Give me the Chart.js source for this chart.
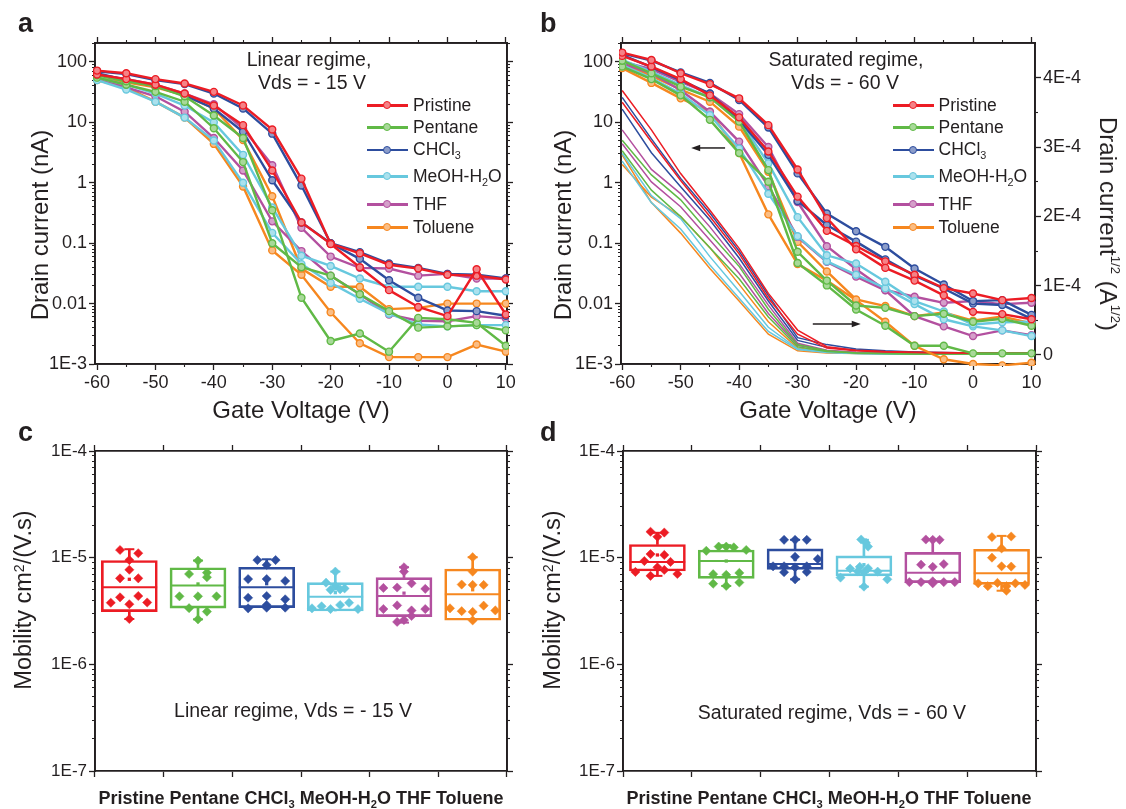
<!DOCTYPE html>
<html><head><meta charset="utf-8">
<script src="https://cdn.jsdelivr.net/npm/chart.js@4.4.1/dist/chart.umd.min.js"></script>
<style>
html,body{margin:0;padding:0;background:#fff;}
body{position:relative;width:1126px;height:809px;overflow:hidden;font-family:'Liberation Sans',Arial,Helvetica,sans-serif;color:#231f20;}
canvas{position:absolute;left:0;top:0;}
.tx{position:absolute;white-space:nowrap;line-height:1;}
sub{font-size:62%;vertical-align:-0.4em;line-height:0;}
sup{font-size:55%;vertical-align:0.8em;line-height:0;}
</style></head><body>
<canvas id="cA" width="1126" height="809"></canvas>
<canvas id="cB" width="1126" height="809"></canvas>
<canvas id="cC" width="1126" height="809"></canvas>
<canvas id="cD" width="1126" height="809"></canvas>
<div id="ov"></div>
<script>
// ---------------- DATA ----------------
const V = [-60,-55,-50,-45,-40,-35,-30,-25,-20,-15,-10,-5,0,5,10];
const solvents = ['Pristine','Pentane','CHCl3','MeOH-H2O','THF','Toluene'];
const colors = ['#EC1C24','#60B946','#2D4D9E','#67C8DE','#B3509F','#F6871F'];

// panel a: linear regime (Vds = -15 V), drain current in nA, two transfer curves per solvent
const aPristine1 = [72,65,52,44,32,19,7.6,1.17,0.097,0.04,0.0167,0.0088,0.0062,0.037,0.0066];
const aPristine2 = [62,52,42,30,19,9,1.6,0.22,0.098,0.068,0.044,0.038,0.03,0.029,0.025];
const aPentane1  = [60,48,40,27,13,5.5,0.35,0.0125,0.0024,0.0032,0.0016,0.0058,0.0055,0.0048,0.002];
const aPentane2  = [55,42,32,22,8,2.2,0.1,0.04,0.029,0.0143,0.0075,0.004,0.0042,0.0044,0.0036];
const aCHCl3_1   = [70,63,50,43,30,17,6.5,0.9,0.1,0.071,0.046,0.039,0.031,0.03,0.026];
const aCHCl3_2   = [65,50,40,28,17,7,1.1,0.22,0.1,0.055,0.0243,0.0125,0.0077,0.0075,0.0063];
const aMeOH1     = [55,42,30,19,10,2.9,0.39,0.062,0.042,0.026,0.019,0.019,0.019,0.016,0.016];
const aMeOH2     = [50,35,22,12,5,1.0,0.148,0.045,0.022,0.012,0.0068,0.0045,0.0042,0.0044,0.0044];
const aTHF1      = [62,52,42,30,20,7.9,1.95,0.18,0.06,0.039,0.038,0.029,0.031,0.026,0.026];
const aTHF2      = [55,38,27,15,5.5,1.6,0.23,0.074,0.029,0.0143,0.0066,0.0052,0.0051,0.0062,0.0057];
const aToluene1  = [54,46,38,28,17,5.1,0.6,0.038,0.019,0.019,0.0081,0.0085,0.01,0.01,0.01];
const aToluene2  = [50,38,22,12,4.4,0.87,0.076,0.03,0.0072,0.0022,0.0013,0.0013,0.0013,0.0021,0.0016];

// panel b: saturated regime (Vds = -60 V), drain current in nA (log, left axis)
const bPristine1 = [143,108,65,43,25,9.0,1.66,0.26,0.079,0.039,0.024,0.0137,0.0073,0.0067,0.0055];
const bPristine2 = [126,84,52,28,12.1,3.3,0.59,0.16,0.09,0.05,0.03,0.018,0.0147,0.0114,0.0124];
const bPentane1  = [105,65,39,26,10.3,1.62,0.072,0.024,0.0093,0.0085,0.0062,0.0068,0.005,0.0056,0.0043];
const bPentane2  = [84,52,28,11,3.1,1.04,0.047,0.02,0.008,0.0043,0.002,0.002,0.0015,0.0015,0.0015];
const bCHCl3_1   = [139,105,67,45,23.5,8.2,1.43,0.31,0.158,0.087,0.038,0.0207,0.011,0.0114,0.0065];
const bCHCl3_2   = [131,82,50,30,11,2.9,0.5,0.2,0.106,0.054,0.029,0.0178,0.01,0.0095,0.0056];
const bMeOH1     = [108,69,41.5,26,11,2.1,0.27,0.063,0.046,0.023,0.011,0.0074,0.0045,0.0049,0.005];
const bMeOH2     = [89,54,30,13.2,3.7,0.66,0.13,0.05,0.03,0.018,0.0098,0.0055,0.0042,0.0036,0.0029];
const bTHF1      = [101,76,47,30,13.7,3.9,0.48,0.089,0.037,0.0168,0.013,0.0103,0.011,0.0098,0.0103];
const bTHF2      = [95,65,34,15,4.8,0.88,0.127,0.049,0.028,0.0166,0.0062,0.0042,0.0029,0.0036,0.003];
const bToluene1  = [95,59,35,22,8.5,1.52,0.105,0.034,0.0117,0.0091,0.0062,0.0071,0.0052,0.0061,0.0047];
const bToluene2  = [79,45,25,15,3.1,0.3,0.045,0.024,0.0114,0.005,0.002,0.0012,0.001,0.00095,0.00105];

// panel b: square root of drain current, in units of 1E-4 A^1/2 (right axis)
const sPristine1 = [3.82,3.25,2.62,2.09,1.54,0.89,0.36,0.12,0.07,0.05,0.04,0.035,0.03,0.03,0.03];
const sPristine2 = [3.65,3.08,2.52,2.0,1.46,0.82,0.3,0.1,0.06,0.045,0.035,0.03,0.028,0.025,0.025];
const sPentane1  = [3.1,2.6,2.24,1.75,1.28,0.66,0.15,0.06,0.03,0.02,0.015,0.015,0.015,0.015,0.015];
const sPentane2  = [2.95,2.38,2.0,1.55,1.1,0.55,0.12,0.05,0.03,0.02,0.015,0.015,0.015,0.015,0.015];
const sCHCl3_1   = [3.72,3.12,2.55,2.05,1.5,0.86,0.25,0.15,0.085,0.06,0.045,0.035,0.03,0.025,0.025];
const sCHCl3_2   = [3.55,2.92,2.43,1.95,1.4,0.78,0.21,0.11,0.07,0.05,0.04,0.03,0.025,0.02,0.02];
const sMeOH1     = [2.91,2.3,1.97,1.42,0.92,0.4,0.09,0.04,0.02,0.015,0.01,0.01,0.01,0.01,0.01];
const sMeOH2     = [2.8,2.2,1.82,1.3,0.82,0.34,0.08,0.035,0.02,0.015,0.01,0.01,0.01,0.01,0.01];
const sTHF1      = [3.25,2.68,2.33,1.85,1.32,0.72,0.17,0.07,0.04,0.03,0.025,0.02,0.02,0.02,0.02];
const sTHF2      = [3.05,2.5,2.14,1.66,1.18,0.6,0.14,0.06,0.035,0.025,0.02,0.02,0.02,0.02,0.02];
const sToluene1  = [2.89,2.2,1.76,1.25,0.78,0.3,0.06,0.03,0.02,0.015,0.01,0.01,0.01,0.01,0.01];
const sToluene2  = [2.75,2.28,2.0,1.55,1.02,0.48,0.1,0.04,0.025,0.015,0.01,0.01,0.01,0.01,0.01];

// panel b arrows [gate voltage, drain current nA]
const arrows = [{from:[-42.4,3.77], to:[-48.2,3.77]}, {from:[-27.4,0.0046], to:[-19.2,0.0046]}];

// panel c: mobility, linear regime (box statistics per solvent)
const cQ1   = [3.12e-6,3.36e-6,3.40e-6,3.16e-6,2.80e-6,2.59e-6];
const cMed  = [5.27e-6,5.47e-6,5.27e-6,4.31e-6,4.37e-6,4.54e-6];
const cQ3   = [9.40e-6,8.05e-6,8.13e-6,5.83e-6,6.50e-6,7.83e-6];
const cLo   = [2.66e-6,2.64e-6,3.40e-6,3.16e-6,2.46e-6,2.59e-6];
const cHi   = [1.20e-5,9.40e-6,9.66e-6,7.40e-6,8.13e-6,1.01e-5];
const cMean = [6.27e-6,5.67e-6,5.70e-6,4.70e-6,4.65e-6,5.00e-6];
// individual devices: [horizontal jitter, mobility]
const cPoints = [
  [[-0.135,1.18e-5],[0.13,1.10e-5],[0,9.5e-6],[0,7.7e-6],[-0.135,6.4e-6],[0.13,6.4e-6],[-0.135,4.25e-6],[0.13,4.37e-6],[-0.27,3.78e-6],[0,3.66e-6],[0.26,3.8e-6],[0,2.66e-6]],
  [[0,9.37e-6],[-0.13,7.03e-6],[0.13,7.24e-6],[0.13,6.55e-6],[-0.27,4.34e-6],[0,4.34e-6],[0.27,4.34e-6],[-0.13,3.36e-6],[0.13,3.12e-6],[0,2.64e-6]],
  [[-0.135,9.5e-6],[0.13,9.5e-6],[0,8.55e-6],[-0.27,6.3e-6],[0,6.3e-6],[0.27,6.05e-6],[-0.27,4.21e-6],[0,4.37e-6],[0.27,4.07e-6],[-0.27,3.35e-6],[0,3.6e-6],[0,3.4e-6],[0.27,3.4e-6]],
  [[0,7.4e-6],[-0.135,5.83e-6],[0,5.43e-6],[-0.07,5.0e-6],[0.07,5.05e-6],[0.135,5.15e-6],[-0.34,3.35e-6],[-0.2,3.5e-6],[-0.07,3.3e-6],[0.07,3.6e-6],[0.2,3.78e-6],[0.33,3.3e-6]],
  [[0,8.13e-6],[0,7.4e-6],[-0.3,5.2e-6],[-0.1,5.25e-6],[0.11,5.75e-6],[0.31,5.1e-6],[-0.3,3.3e-6],[-0.1,3.57e-6],[0.11,3.2e-6],[0.31,3.3e-6],[0.11,2.84e-6],[-0.1,2.5e-6],[0,2.6e-6]],
  [[0,1.01e-5],[0,7.4e-6],[-0.16,5.6e-6],[0,5.55e-6],[0.16,5.55e-6],[-0.33,3.35e-6],[-0.16,3.15e-6],[0,3.1e-6],[0.16,3.55e-6],[0.33,3.2e-6],[0,2.58e-6]]
];

// panel d: mobility, saturated regime
const dQ1   = [7.50e-6,6.40e-6,7.78e-6,6.75e-6,5.84e-6,5.62e-6];
const dMed  = [9.12e-6,9.30e-6,8.73e-6,7.55e-6,7.24e-6,7.13e-6];
const dQ3   = [1.33e-5,1.18e-5,1.21e-5,1.04e-5,1.12e-5,1.20e-5];
const dLo   = [6.75e-6,5.43e-6,6.27e-6,5.35e-6,5.84e-6,4.90e-6];
const dHi   = [1.71e-5,1.31e-5,1.47e-5,1.47e-5,1.47e-5,1.60e-5];
const dMean = [1.06e-5,9.3e-6,9.6e-6,8.6e-6,8.0e-6,8.2e-6];
const dPoints = [
  [[-0.1,1.75e-5],[0.1,1.72e-5],[0,1.57e-5],[-0.1,1.08e-5],[0.1,1.06e-5],[-0.19,9.3e-6],[0.19,9.12e-6],[0,8.13e-6],[-0.32,7.35e-6],[0.1,7.67e-6],[-0.1,6.75e-6],[0.29,7.03e-6]],
  [[-0.29,1.16e-5],[-0.11,1.27e-5],[0,1.27e-5],[0.11,1.25e-5],[0.29,1.18e-5],[-0.19,7.0e-6],[0,6.9e-6],[0.19,7.2e-6],[-0.19,5.7e-6],[0,5.43e-6],[0.19,5.85e-6]],
  [[-0.16,1.47e-5],[0,1.47e-5],[0.17,1.47e-5],[0,1.02e-5],[0.33,9.7e-6],[-0.32,8.3e-6],[-0.16,8.3e-6],[0,8.1e-6],[0.17,8.3e-6],[-0.16,7.3e-6],[0.17,7.35e-6],[0,6.27e-6]],
  [[-0.04,1.48e-5],[0.03,1.38e-5],[0.06,1.27e-5],[-0.2,7.9e-6],[-0.06,8.2e-6],[0.06,7.95e-6],[-0.09,7.45e-6],[0,7.3e-6],[0.2,7.4e-6],[-0.34,6.5e-6],[0.34,6.27e-6],[0,5.35e-6]],
  [[-0.1,1.48e-5],[0,1.47e-5],[0.1,1.47e-5],[-0.17,8.6e-6],[0,8.2e-6],[0.16,8.7e-6],[-0.34,5.9e-6],[-0.17,5.9e-6],[0,5.75e-6],[0,6.0e-6],[0.16,5.9e-6],[0.32,5.9e-6]],
  [[-0.14,1.56e-5],[0.14,1.58e-5],[0,1.22e-5],[-0.14,1.0e-5],[0,8.3e-6],[0.14,8.25e-6],[-0.34,5.75e-6],[-0.2,5.4e-6],[-0.06,5.8e-6],[0.2,5.75e-6],[0.34,5.55e-6],[0.07,5.4e-6],[0.07,4.9e-6]]
];

// tick values and labels
const vTickVals  = [-60,-50,-40,-30,-20,-10,0,10];
const vTickText  = ['-60','-50','-40','-30','-20','-10','0','10'];
const vMinorVals = [-55,-45,-35,-25,-15,-5,5];
const iTickVals  = [0.001,0.01,0.1,1,10,100];
const iTickText  = ['1E-3','0.01','0.1','1','10','100'];
const sTickVals  = [0,1,2,3,4];
const sTickText  = ['0','1E-4','2E-4','3E-4','4E-4'];
const sMinorVals = [0.5,1.5,2.5,3.5];
const mTickVals  = [1e-7,1e-6,1e-5,1e-4];
const mTickText  = ['1E-7','1E-6','1E-5','1E-4'];
const catVals    = [1,2,3,4,5,6];

// ---------------- HELPERS ----------------
const INK = '#231f20';
Chart.defaults.font.family = "'Liberation Sans', Arial, Helvetica, sans-serif";
Chart.defaults.color = INK;

function tint(hex, f){ const n = parseInt(hex.slice(1),16); const r=n>>16, g=(n>>8)&255, b=n&255;
  const m = c => Math.round(c + (255-c)*f); return 'rgb('+m(r)+','+m(g)+','+m(b)+')'; }
function labelFor(vals, texts){ return v => { const i = vals.findIndex(t => Math.abs(t - v) <= Math.abs(t)*1e-6 + 1e-9); return i >= 0 ? texts[i] : ''; }; }
function fix(w, h){ return s => { if (w != null) s.width = w; if (h != null) s.height = h; s.paddingLeft = 0; s.paddingRight = 0; s.paddingTop = 0; s.paddingBottom = 0; }; }
const useTicks = vals => s => { s.ticks = vals.map(v => ({value: v})); };
function logMinor(min, max){ const t = []; for (let e = -8; e <= 3; e++) for (let m = 2; m <= 9; m++) { const v = +(m + 'e' + e); if (v >= min && v <= max) t.push(v); } return t; }
const GRIDMAJ = {drawOnChartArea:false, drawTicks:true, tickLength:6, tickColor:INK, tickWidth:1.3};
const GRIDMIN = {drawOnChartArea:false, drawTicks:true, tickLength:3, tickColor:INK, tickWidth:1.1};
const BORDER = {display:true, color:INK, width:1.8};
const horiz = p => p === 'top' || p === 'bottom';
// bare frame axis (no labels); major=true -> long ticks
function frame(pos, type, min, max, vals, major){
  return {type, position:pos, min, max, offset:false, weight: major ? 1 : 0,
    grid: major ? GRIDMAJ : GRIDMIN, border:BORDER, ticks:{display:false}, afterBuildTicks: useTicks(vals),
    afterFit: major ? (horiz(pos) ? fix(null, 6) : fix(6, null)) : (horiz(pos) ? fix(null, 0) : fix(0, null))};
}

function lineDs(arr, color, axis, markers){
  return {type:'line', data: V.map((v,i) => ({x:v, y:arr[i]})), yAxisID: axis, xAxisID:'x',
    borderColor: color, borderWidth: markers ? 2.4 : 1.5, tension:0, fill:false,
    pointRadius: markers ? 3.5 : 0, pointBorderWidth: 1.4, pointBorderColor: color,
    pointBackgroundColor: tint(color, 0.45), clip: 2};
}

const xVolt = (min, max) => ({type:'linear', position:'bottom', min, max, weight:1, afterFit: fix(null, 62), grid:GRIDMAJ, border:BORDER,
  afterBuildTicks: useTicks(vTickVals),
  ticks:{autoSkip:false, maxRotation:0, padding:2, font:{size:18}, callback: labelFor(vTickVals, vTickText)},
  title:{display:true, text:'Gate Voltage (V)', font:{size:24}, padding:0}});
const yCurrent = (w) => ({type:'logarithmic', position:'left', min:0.001, max:206, weight:1, afterFit: fix(w, null), afterBuildTicks: useTicks(iTickVals),
  grid:GRIDMAJ, border:BORDER, ticks:{autoSkip:false, padding:2, font:{size:18}, callback: labelFor(iTickVals, iTickText)}});
const iMinor = logMinor(0.001, 206), mMinor = logMinor(1e-7, 1e-4);

const common = {responsive:false, animation:false, events:[], plugins:{legend:{display:false}, tooltip:{enabled:false}}};

// ---------------- PANEL a ----------------
const aSeries = [[aPristine1,aPristine2],[aPentane1,aPentane2],[aCHCl3_1,aCHCl3_2],[aMeOH1,aMeOH2],[aTHF1,aTHF2],[aToluene1,aToluene2]];
const aDs = []; aSeries.forEach((pair,ci) => pair.forEach(arr => aDs.push(lineDs(arr, colors[ci], 'y', true))));
new Chart(document.getElementById('cA'), {type:'line', data:{datasets:aDs}, options: Object.assign({}, common, {
  layout:{padding:{left:27, top:37, right:613, bottom:383}},
  scales:{
    x: xVolt(-60.35, 10.2),
    y: yCurrent(68),
    xm: frame('bottom','linear',-60.35,10.2,vMinorVals,false),
    ym: frame('left','logarithmic',0.001,206,iMinor,false),
    xt: frame('top','linear',-60.35,10.2,vTickVals,true),
    xtm: frame('top','linear',-60.35,10.2,vMinorVals,false),
    yr: frame('right','logarithmic',0.001,206,iTickVals,true),
    yrm: frame('right','logarithmic',0.001,206,iMinor,false)
  }})});

// ---------------- PANEL b ----------------
const bSeries = [[bPristine1,bPristine2],[bPentane1,bPentane2],[bCHCl3_1,bCHCl3_2],[bMeOH1,bMeOH2],[bTHF1,bTHF2],[bToluene1,bToluene2]];
const sSeries = [[sPristine1,sPristine2],[sPentane1,sPentane2],[sCHCl3_1,sCHCl3_2],[sMeOH1,sMeOH2],[sTHF1,sTHF2],[sToluene1,sToluene2]];
const bDs = [];
bSeries.forEach((pair,ci) => pair.forEach(arr => bDs.push(lineDs(arr, colors[ci], 'y', true))));
sSeries.forEach((pair,ci) => pair.forEach(arr => bDs.push(lineDs(arr, colors[ci], 'y2', false))));
const arrowPlugin = {id:'arrows', afterDatasetsDraw(chart){
  const {ctx} = chart, x = chart.scales.x, y = chart.scales.y;
  ctx.save(); ctx.strokeStyle = INK; ctx.fillStyle = INK; ctx.lineWidth = 1.5;
  arrows.forEach(a => {
    const x1 = x.getPixelForValue(a.from[0]), y1 = y.getPixelForValue(a.from[1]);
    const x2 = x.getPixelForValue(a.to[0]), y2 = y.getPixelForValue(a.to[1]);
    const d = Math.sign(x2 - x1);
    ctx.beginPath(); ctx.moveTo(x1, y1); ctx.lineTo(x2 - d*6, y2); ctx.stroke();
    ctx.beginPath(); ctx.moveTo(x2, y2); ctx.lineTo(x2 - d*9, y2 - 3.2); ctx.lineTo(x2 - d*9, y2 + 3.2); ctx.closePath(); ctx.fill();
  });
  ctx.restore();
}};
new Chart(document.getElementById('cB'), {type:'line', data:{datasets:bDs}, plugins:[arrowPlugin], options: Object.assign({}, common, {
  layout:{padding:{left:550, top:37, right:21, bottom:383}},
  scales:{
    x: xVolt(-60.2, 10.6),
    y: yCurrent(71),
    y2: {type:'linear', position:'right', min:-0.13, max:4.505, weight:1, afterFit: fix(70, null), grid:GRIDMAJ, border:BORDER,
      afterBuildTicks: useTicks(sTickVals),
      ticks:{autoSkip:false, padding:2, font:{size:18}, callback: labelFor(sTickVals, sTickText)}},
    xm: frame('bottom','linear',-60.2,10.6,vMinorVals,false),
    ym: frame('left','logarithmic',0.001,206,iMinor,false),
    y2m: frame('right','linear',-0.13,4.505,sMinorVals,false),
    xt: frame('top','linear',-60.2,10.6,vTickVals,true),
    xtm: frame('top','linear',-60.2,10.6,vMinorVals,false)
  }})});

// ---------------- PANELS c, d ----------------
function boxDatasets(q1, med, q3, lo, hi, mean, pts){
  const ds = [];
  const ax = {xAxisID:'x', yAxisID:'y'};
  pts.forEach((arr,ci) => ds.push(Object.assign({type:'scatter', data: arr.map(p => ({x: ci+1+p[0], y: p[1]})),
    pointStyle:'rectRot', pointRadius:4.6, pointBackgroundColor: colors[ci], pointBorderColor: colors[ci], pointBorderWidth:0.5}, ax)));
  ds.push(Object.assign({type:'scatter', data: mean.map((m,i) => ({x:i+1, y:m})), pointStyle:'rect', pointRadius:2.3,
    pointBackgroundColor: colors, pointBorderColor: colors, pointBorderWidth:0}, ax));
  ds.push(Object.assign({type:'scatter', data: med.map((m,i) => ({x:i+1, y:m})), pointStyle:'line', pointRadius:27.8,
    pointBorderColor: colors, pointBorderWidth:2}, ax));
  ds.push(Object.assign({type:'scatter', data: hi.map((h,i) => ({x:i+1, y:h})), pointStyle:'line', pointRadius: hi.map((h,i) => h > q3[i] ? 5 : 0),
    pointBorderColor: colors, pointBorderWidth:2}, ax));
  ds.push(Object.assign({type:'scatter', data: lo.map((l,i) => ({x:i+1, y:l})), pointStyle:'line', pointRadius: lo.map((l,i) => l < q1[i] ? 5 : 0),
    pointBorderColor: colors, pointBorderWidth:2}, ax));
  ds.push(Object.assign({type:'bar', data: q1.map((q,i) => ({x:i+1, y:[q, q3[i]]})), backgroundColor:'rgba(0,0,0,0)', borderColor: colors,
    borderWidth:2, borderSkipped:false, barThickness:56, grouped:false}, ax));
  ds.push(Object.assign({type:'bar', data: hi.map((h,i) => ({x:i+1, y:[q3[i], h]})), backgroundColor: colors, borderWidth:0, barThickness:2, grouped:false}, ax));
  ds.push(Object.assign({type:'bar', data: lo.map((l,i) => ({x:i+1, y:[l, q1[i]]})), backgroundColor: colors, borderWidth:0, barThickness:2, grouped:false}, ax));
  return ds;
}
function mobilityChart(id, ds, pad, yw){
  new Chart(document.getElementById(id), {type:'bar', data:{datasets: ds}, options: Object.assign({}, common, {
    layout:{padding: pad},
    scales:{
      x: frame('bottom','linear',0.5,6.5,catVals,true),
      y: {type:'logarithmic', position:'left', min:1e-7, max:1e-4, weight:1, afterFit: fix(yw, null), afterBuildTicks: useTicks(mTickVals),
        grid:GRIDMAJ, border:BORDER, ticks:{autoSkip:false, padding:2, font:{size:17}, callback: labelFor(mTickVals, mTickText)}},
      ym: frame('left','logarithmic',1e-7,1e-4,mMinor,false),
      xt: frame('top','linear',0.5,6.5,catVals,true),
      yr: frame('right','logarithmic',1e-7,1e-4,mTickVals,true),
      yrm: frame('right','logarithmic',1e-7,1e-4,mMinor,false)
    }})});
}
mobilityChart('cC', boxDatasets(cQ1,cMed,cQ3,cLo,cHi,cMean,cPoints), {left:12, top:445, right:613, bottom:32}, 83);
mobilityChart('cD', boxDatasets(dQ1,dMed,dQ3,dLo,dHi,dMean,dPoints), {left:541, top:445, right:84, bottom:32}, 82);

// ---------------- TEXT OVERLAYS ----------------
const ov = document.getElementById('ov');
const sub = s => s.replace(/([A-Za-z])(\d)/g, '$1<sub>$2</sub>');
function txt(html, x, base, size, opt){ opt = opt || {};
  const d = document.createElement('div'); d.className = 'tx'; d.innerHTML = html;
  d.style.fontSize = size + 'px'; d.style.top = (base - 0.8465*size) + 'px'; d.style.left = x + 'px';
  if (opt.bold) d.style.fontWeight = 'bold';
  if (!opt.left) d.style.transform = 'translateX(-50%)';
  ov.appendChild(d); return d; }
function vtxt(html, cx, cy, size, deg){
  const d = document.createElement('div'); d.className = 'tx'; d.innerHTML = html;
  d.style.fontSize = size + 'px'; d.style.left = cx + 'px'; d.style.top = cy + 'px';
  d.style.transform = 'translate(-50%,-50%) rotate(' + deg + 'deg)';
  ov.appendChild(d); return d; }
txt('a', 18, 33, 27, {bold:true, left:true});
txt('b', 540, 33, 27, {bold:true, left:true});
txt('c', 18, 442, 27, {bold:true, left:true});
txt('d', 540, 442, 27, {bold:true, left:true});
txt('Linear regime,', 309, 66.7, 19.5);
txt('Vds = - 15 V', 312, 90, 19.5);
txt('Saturated regime,', 846, 66.5, 19.5);
txt('Vds = - 60 V', 845, 90, 19.5);
txt('Linear regime, Vds = - 15 V', 293, 718, 19.5);
txt('Saturated regime, Vds = - 60 V', 832, 719.5, 19.5);
txt(solvents.map(sub).join(' '), 301, 804.5, 18, {bold:true});
txt(solvents.map(sub).join(' '), 829, 804.5, 18, {bold:true});
// axis titles
vtxt('Drain current (nA)', 40, 225, 24, -90);
vtxt('Drain current (nA)', 563, 225, 24, -90);
vtxt('Drain current<sup>1/2</sup> (A<sup>1/2</sup>)', 1108, 224, 24, 90);
vtxt('Mobility cm<sup style="font-size:60%;vertical-align:0.55em">2</sup>/(V.s)', 24, 600, 23.5, -90);
vtxt('Mobility cm<sup style="font-size:60%;vertical-align:0.55em">2</sup>/(V.s)', 553, 600, 23.5, -90);
// legends
const legendY = [105.5,127.7,150,176.7,204.3,227.7];
function legend(x0){
  solvents.forEach((s,i) => {
    const y = legendY[i], c = colors[i];
    const ln = document.createElement('div');
    ln.style.cssText = 'position:absolute;left:'+x0+'px;top:'+(y-1.3)+'px;width:41px;height:2.6px;background:'+c;
    const dot = document.createElement('div');
    dot.style.cssText = 'position:absolute;left:'+(x0+16)+'px;top:'+(y-4.5)+'px;width:6px;height:6px;border:1.5px solid '+c+';border-radius:50%;background:'+tint(c,0.45);
    ov.appendChild(ln); ov.appendChild(dot);
    txt(sub(s), x0+46, y+6.3, 17.5, {left:true});
  });
}
legend(367);
legend(892.5);
</script></body></html>
